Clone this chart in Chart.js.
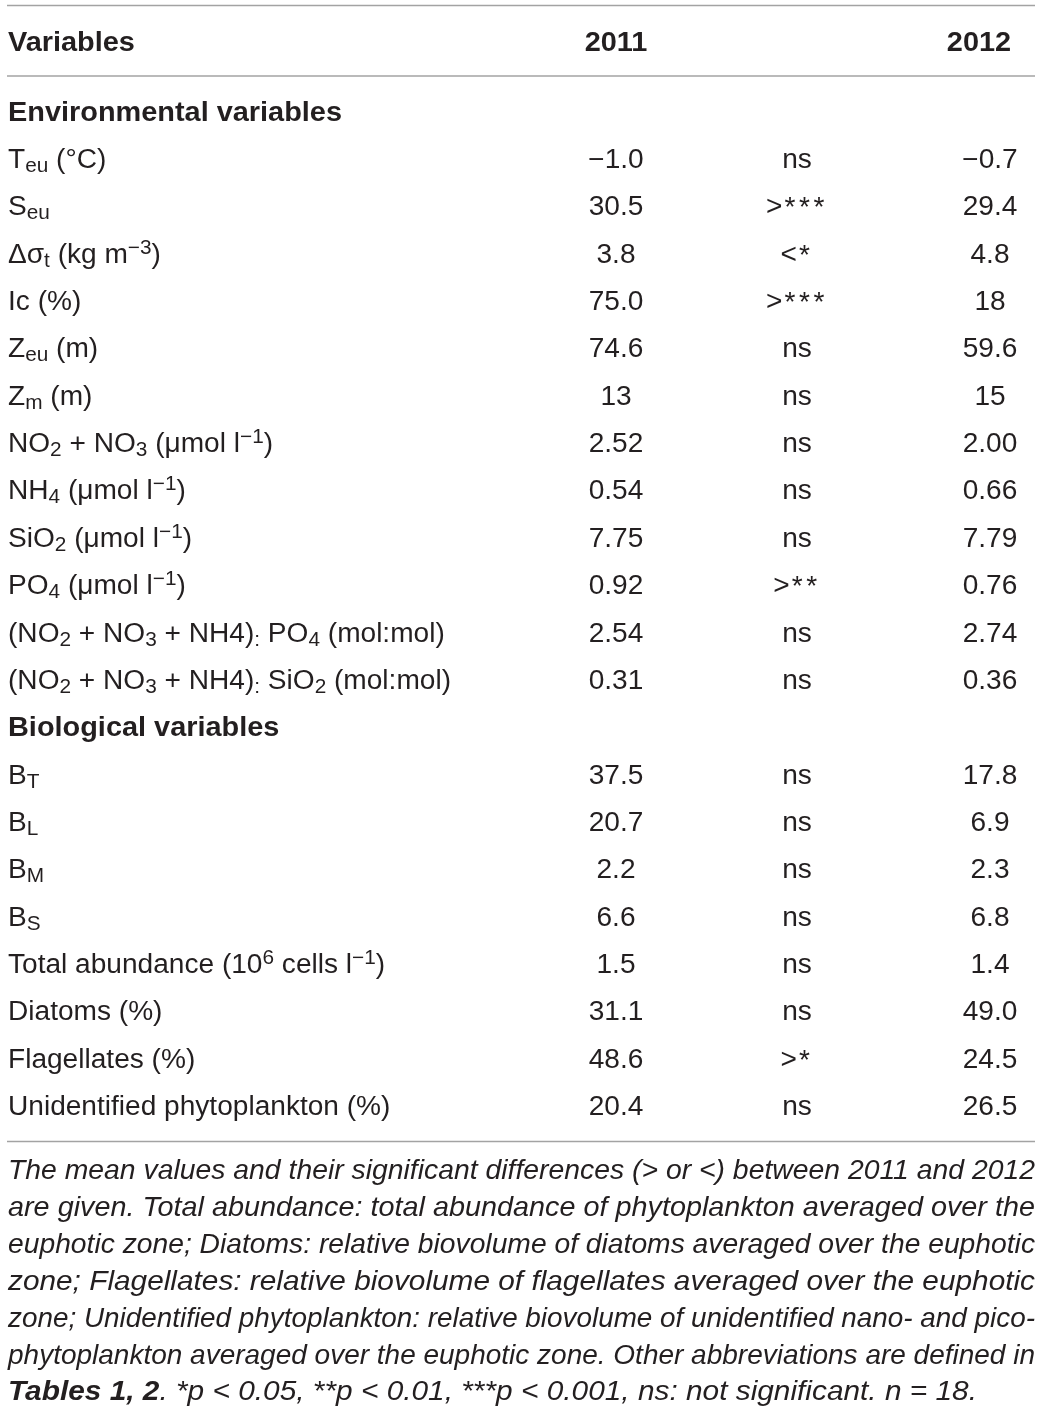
<!DOCTYPE html>
<html>
<head>
<meta charset="utf-8">
<script src="https://cdn.jsdelivr.net/npm/chart.js@4.4.1/dist/chart.umd.min.js"></script>
<style>
  html, body { margin: 0; padding: 0; background: #ffffff; }
  canvas { display: block; }
</style>
</head>
<body>
<canvas id="c" width="1041" height="1414"></canvas>
<script>
// ---------------- DATA ----------------
const columnHeaders = ['Variables', '2011', '', '2012'];
const sections = ['Environmental variables', 'Biological variables'];

const envVariables = [
  'T_{eu} (°C)',
  'S_{eu}',
  'Δσ_{t} (kg m^{−3})',
  'Ic (%)',
  'Z_{eu} (m)',
  'Z_{m} (m)',
  'NO_{2} + NO_{3} (μmol l^{−1})',
  'NH_{4} (μmol l^{−1})',
  'SiO_{2} (μmol l^{−1})',
  'PO_{4} (μmol l^{−1})',
  '(NO_{2} + NO_{3} + NH4)_{:} PO_{4} (mol:mol)',
  '(NO_{2} + NO_{3} + NH4)_{:} SiO_{2} (mol:mol)'
];
const env2011 = ['−1.0', '30.5', '3.8', '75.0', '74.6', '13', '2.52', '0.54', '7.75', '0.92', '2.54', '0.31'];
const envSig  = ['ns', '>*{***}', '<*{*}', '>*{***}', 'ns', 'ns', 'ns', 'ns', 'ns', '>*{**}', 'ns', 'ns'];
const env2012 = ['−0.7', '29.4', '4.8', '18', '59.6', '15', '2.00', '0.66', '7.79', '0.76', '2.74', '0.36'];

const bioVariables = [
  'B_{T}',
  'B_{L}',
  'B_{M}',
  'B_{S}',
  'Total abundance (10^{6} cells l^{−1})',
  'Diatoms (%)',
  'Flagellates (%)',
  'Unidentified phytoplankton (%)'
];
const bio2011 = ['37.5', '20.7', '2.2', '6.6', '1.5', '31.1', '48.6', '20.4'];
const bioSig  = ['ns', 'ns', 'ns', 'ns', 'ns', 'ns', '>*{*}', 'ns'];
const bio2012 = ['17.8', '6.9', '2.3', '6.8', '1.4', '49.0', '24.5', '26.5'];

const footnoteLines = [
  'The mean values and their significant differences (> or <) between 2011 and 2012',
  'are given. Total abundance: total abundance of phytoplankton averaged over the',
  'euphotic zone; Diatoms: relative biovolume of diatoms averaged over the euphotic',
  'zone; Flagellates: relative biovolume of flagellates averaged over the euphotic',
  'zone; Unidentified phytoplankton: relative biovolume of unidentified nano- and pico-',
  'phytoplankton averaged over the euphotic zone. Other abbreviations are defined in'
];
const footnoteLastBold = 'Tables 1, 2';
const footnoteLastRest = '. *p < 0.05, **p < 0.01, ***p < 0.001, ns: not significant. n = 18.';

// ---------------- LAYOUT (not data) ----------------
const W = 1041, H = 1414;
const COL = { label: 8, y2011: 616, sig: 797, y2012: 990, head2012: 979, right: 1035, footEnd: 977 };
const FONT = '"Liberation Sans", Arial, Helvetica, sans-serif';
const TXT = '#231f20';
const RULE = '#a3a3a3';
const SIZE = 27;
const HS = { normal: 1.04, bold: 1.07 };
const FOOT_SIZE = 28;

// Build rows (category labels) from the data arrays
const rows = [];
rows.push({ label: sections[0], section: true });
envVariables.forEach((v, i) => rows.push({ label: v, v11: env2011[i], sig: envSig[i], v12: env2012[i] }));
rows.push({ label: sections[1], section: true });
bioVariables.forEach((v, i) => rows.push({ label: v, v11: bio2011[i], sig: bioSig[i], v12: bio2012[i] }));
const rowKeys = rows.map(r => r.label);

function pts(field, xAnchor) {
  return rows.filter(r => field === 'label' || !r.section)
             .map(r => ({ x: xAnchor, y: r.label, text: r[field], section: !!r.section }));
}

// ---------------- rich text helpers ----------------
// _{..} subscript, ^{..} superscript, *{..} significance stars
function parseRich(s) {
  const segs = [];
  let i = 0, buf = '';
  while (i < s.length) {
    if ((s[i] === '_' || s[i] === '^' || s[i] === '*') && s[i + 1] === '{') {
      if (buf) { segs.push({ t: buf, k: 'n' }); buf = ''; }
      const end = s.indexOf('}', i + 2);
      segs.push({ t: s.slice(i + 2, end), k: s[i] === '_' ? 'sub' : (s[i] === '^' ? 'sup' : 'star') });
      i = end + 1;
    } else { buf += s[i]; i++; }
  }
  if (buf) segs.push({ t: buf, k: 'n' });
  return segs;
}
function drawRich(ctx, s, x, y, align, weight) {
  weight = weight || 'normal';
  const hs = HS[weight];
  const segs = parseRich(s);
  const small = Math.round(SIZE * 0.74);
  const fontFor = k => `${weight} ${(k === 'sub' || k === 'sup') ? small : SIZE}px ${FONT}`;
  let total = 0;
  segs.forEach(g => {
    ctx.font = fontFor(g.k);
    if (g.k === 'star') {
      g.cw = ctx.measureText('*').width + 3.5;
      g.w = g.cw * g.t.length + 2;
    } else {
      g.w = ctx.measureText(g.t).width;
    }
    total += g.w;
  });
  const tw = total * hs;
  const x0 = align === 'center' ? x - tw / 2 : (align === 'right' ? x - tw : x);
  ctx.save();
  ctx.translate(x0, y);
  ctx.scale(hs, 1);
  ctx.textAlign = 'left';
  ctx.textBaseline = 'alphabetic';
  let cx = 0;
  segs.forEach(g => {
    ctx.font = fontFor(g.k);
    if (g.k === 'star') {
      for (let c = 0; c < g.t.length; c++) ctx.fillText('*', cx + 2 + c * g.cw, 1);
    } else {
      const dy = g.k === 'sub' ? 4 : (g.k === 'sup' ? -9 : 0);
      ctx.fillText(g.t, cx, dy);
    }
    cx += g.w;
  });
  ctx.restore();
}

const tablePlugin = {
  id: 'tablePlugin',
  afterDatasetsDraw(chart) {
    const ctx = chart.ctx;
    const yS = chart.scales.y, xS = chart.scales.x;
    const firstY = yS.getPixelForValue(0);
    const lastY = yS.getPixelForValue(rowKeys.length - 1);
    ctx.save();
    ctx.fillStyle = TXT;

    // rules
    ctx.strokeStyle = RULE;
    ctx.lineWidth = 1.6;
    [firstY - 106.2, firstY - 35.7, lastY + 35.5].forEach(yy => {
      ctx.beginPath();
      ctx.moveTo(xS.getPixelForValue(7), yy);
      ctx.lineTo(xS.getPixelForValue(COL.right), yy);
      ctx.stroke();
    });

    // header
    const hb = firstY - 61;
    drawRich(ctx, columnHeaders[0], xS.getPixelForValue(COL.label), hb, 'left', 'bold');
    drawRich(ctx, columnHeaders[1], xS.getPixelForValue(COL.y2011), hb, 'center', 'bold');
    drawRich(ctx, columnHeaders[3], xS.getPixelForValue(COL.head2012), hb, 'center', 'bold');

    // body cells, positioned by the library's scales via dataset elements
    const aligns = ['left', 'center', 'center', 'center'];
    chart.data.datasets.forEach((ds, di) => {
      const meta = chart.getDatasetMeta(di);
      meta.data.forEach((el, j) => {
        const p = ds.data[j];
        drawRich(ctx, p.text, el.x, el.y + 9, aligns[di], p.section ? 'bold' : 'normal');
      });
    });

    // footnote (justified)
    const fx = xS.getPixelForValue(8);
    const target = xS.getPixelForValue(COL.right) - fx;
    const fontI = `italic ${FOOT_SIZE}px ${FONT}`;
    const fontBI = `italic bold ${FOOT_SIZE}px ${FONT}`;
    // global horizontal scale from the (non-justified) last line
    ctx.font = fontBI;
    const bwN = ctx.measureText(footnoteLastBold).width;
    ctx.font = fontI;
    const lastNat = bwN + ctx.measureText(footnoteLastRest).width;
    const sG = (xS.getPixelForValue(COL.footEnd) - fx) / lastNat;
    const fb0 = lastY + 73;
    const lh = 36.9;
    footnoteLines.forEach((l, i) => {
      ctx.font = fontI;
      const s = Math.min(sG, target / ctx.measureText(l).width);
      ctx.save();
      ctx.translate(fx, fb0 + i * lh);
      ctx.scale(s, 1);
      ctx.textAlign = 'left';
      const words = l.split(' ');
      const sp = ctx.measureText(' ').width;
      const ws = words.map(w => ctx.measureText(w).width);
      const nat = ws.reduce((a, b) => a + b, 0) + sp * (words.length - 1);
      const gap = sp + (target / s - nat) / (words.length - 1);
      let cx = 0;
      words.forEach((w, k) => { ctx.fillText(w, cx, 0); cx += ws[k] + gap; });
      ctx.restore();
    });
    ctx.save();
    ctx.translate(fx, fb0 + footnoteLines.length * lh);
    ctx.scale(sG, 1);
    ctx.textAlign = 'left';
    ctx.font = fontBI;
    ctx.fillText(footnoteLastBold, 0, 0);
    ctx.font = fontI;
    ctx.fillText(footnoteLastRest, bwN, 0);
    ctx.restore();

    ctx.restore();
  }
};

new Chart(document.getElementById('c'), {
  type: 'scatter',
  data: {
    datasets: [
      { label: columnHeaders[0], data: pts('label', COL.label) },
      { label: columnHeaders[1], data: pts('v11', COL.y2011) },
      { label: 'significance', data: pts('sig', COL.sig) },
      { label: columnHeaders[3], data: pts('v12', COL.y2012) }
    ]
  },
  options: {
    responsive: false,
    animation: false,
    devicePixelRatio: 1,
    layout: { padding: { top: 111.7, bottom: H - 1106, left: 0, right: 0 } },
    elements: { point: { radius: 0, hoverRadius: 0 } },
    scales: {
      x: { type: 'linear', min: 0, max: W, display: false },
      y: { type: 'category', labels: rowKeys, offset: false, display: false }
    },
    plugins: { legend: { display: false }, tooltip: { enabled: false } }
  },
  plugins: [tablePlugin]
});
</script>
</body>
</html>
